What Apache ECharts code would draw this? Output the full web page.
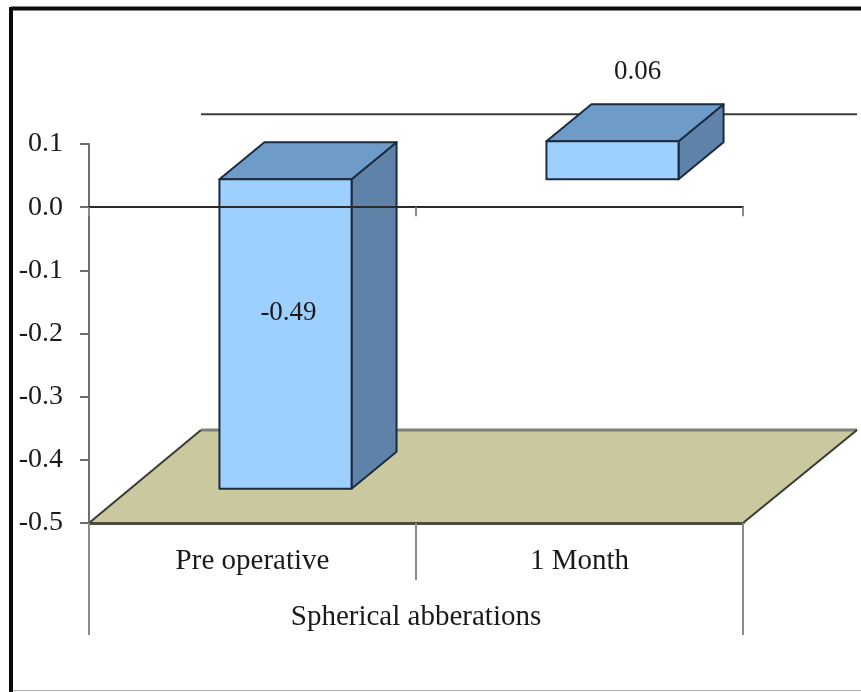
<!DOCTYPE html>
<html>
<head>
<meta charset="utf-8">
<style>html,body{margin:0;padding:0;background:#fff}#main{width:861px;height:692px}</style>
<script src="https://cdn.jsdelivr.net/npm/echarts@6/dist/echarts.min.js"></script>
</head>
<body>
<div id="main"></div>
<script>
var categories = ['Pre operative', '1 Month'];
var groupLabels = ['Spherical abberations'];
var values = [-0.49, 0.06];
var valueLabels = ['-0.49', '0.06'];

var font = '"Liberation Serif", "Times New Roman", serif';
var depthX = 112, depthY = -93;           // whole floor depth
var barDX = 33, barDY = -28;              // front of the bars, from the axis plane
var boxDX = 45, boxDY = -37;              // depth of one bar

function renderFloor(params, api) {
    var cs = params.coordSys;
    var y = api.coord([0, -0.5])[1];
    var x0 = cs.x, x1 = cs.x + cs.width;
    return {
        type: 'group',
        children: [
            {type: 'polygon', shape: {points: [[x0, y], [x1, y], [x1 + depthX + 2, y + depthY], [x0 + depthX, y + depthY]]},
                style: {fill: '#c9c89f', stroke: null}},
            {type: 'line', shape: {x1: x0 + depthX, y1: y + depthY, x2: x1 + depthX + 2, y2: y + depthY},
                style: {stroke: '#808078', lineWidth: 3}},
            {type: 'line', shape: {x1: x0, y1: y, x2: x0 + depthX, y2: y + depthY},
                style: {stroke: '#3a3a34', lineWidth: 2}},
            {type: 'line', shape: {x1: x1, y1: y, x2: x1 + depthX + 2, y2: y + depthY},
                style: {stroke: '#3a3a34', lineWidth: 2}}
        ]
    };
}

function renderBackLine(params, api) {
    var cs = params.coordSys;
    var y = api.coord([0, 0])[1] + depthY;
    return {type: 'line', shape: {x1: cs.x + depthX, y1: y, x2: cs.x + cs.width + depthX + 2, y2: y},
        style: {stroke: '#3c3c3c', lineWidth: 2}};
}

function renderBar(params, api) {
    var i = api.value(0), v = api.value(1);
    var c0 = api.coord([i, 0]), c1 = api.coord([i, v]);
    var w = api.size([1, 0])[0] * 0.404;
    var l = c0[0] - w / 2 + barDX, r = l + w;
    var top = Math.min(c0[1], c1[1]) + barDY, bot = Math.max(c0[1], c1[1]) + barDY;
    var edge = {stroke: '#1c2c40', lineWidth: 2, lineJoin: 'round'};
    return {
        type: 'group',
        children: [
            {type: 'polygon', shape: {points: [[r, top], [r + boxDX, top + boxDY], [r + boxDX, bot + boxDY], [r, bot]]},
                style: Object.assign({fill: '#5f82a9'}, edge)},
            {type: 'polygon', shape: {points: [[l, top], [l + boxDX, top + boxDY], [r + boxDX, top + boxDY], [r, top]]},
                style: Object.assign({fill: '#6f9bc9'}, edge)},
            {type: 'rect', shape: {x: l, y: top, width: w, height: bot - top},
                style: Object.assign({fill: '#9ed0ff'}, edge)}
        ]
    };
}

function renderLabel(params, api) {
    var i = api.value(0), v = api.value(1);
    var c0 = api.coord([i, 0]), c1 = api.coord([i, v]);
    var x = c0[0] + barDX + (v < 0 ? 3 : 25);
    var y = v < 0 ? (c0[1] + c1[1]) / 2 + barDY - 21 : c1[1] + barDY + boxDY - 32;
    return {type: 'text', x: x, y: y, z2: 20,
        style: {text: valueLabels[i], font: '27px ' + font, fill: '#1a1a1a', align: 'center', verticalAlign: 'middle'}};
}

var barData = values.map(function (v, i) { return [i, v]; });

var chart = echarts.init(document.getElementById('main'));
chart.setOption({
    animation: false,
    backgroundColor: '#fff',
    grid: {left: 89, top: 144, width: 654, height: 379, containLabel: false},
    graphic: [
        {type: 'line', shape: {x1: 11, y1: 8.5, x2: 861, y2: 8.5}, style: {stroke: '#0a0a0a', lineWidth: 4}},
        {type: 'line', shape: {x1: 11, y1: 7, x2: 11, y2: 692}, style: {stroke: '#0a0a0a', lineWidth: 4}},
        {type: 'line', shape: {x1: 13, y1: 690.5, x2: 861, y2: 690.5}, style: {stroke: '#b0b0b0', lineWidth: 1}}
    ],
    xAxis: [
        // bottom axis with the category labels
        {type: 'category', data: categories, position: 'bottom', z: 3,
            axisLine: {onZero: false, lineStyle: {color: '#4b4b40', width: 3}},
            axisTick: {show: true, length: 57, lineStyle: {color: '#8a8a8a', width: 2}},
            axisLabel: {margin: 24, fontFamily: font, fontSize: 29, color: '#1a1a1a'}},
        // outer level of the category labels
        {type: 'category', data: groupLabels, position: 'bottom', z: 2,
            axisLine: {show: false, onZero: false},
            axisTick: {show: true, length: 112, lineStyle: {color: '#8a8a8a', width: 2}},
            axisLabel: {margin: 80, fontFamily: font, fontSize: 29, color: '#1a1a1a'}},
        // line through zero, drawn over the bars
        {type: 'category', data: categories, position: 'bottom', z: 8,
            axisLine: {onZero: true, lineStyle: {color: '#2a2a2a', width: 2}},
            axisTick: {show: true, length: 9, lineStyle: {color: '#8a8a8a', width: 2}},
            axisLabel: {show: false}}
    ],
    yAxis: {
        type: 'value', min: -0.5, max: 0.1, interval: 0.1,
        z: 3,
        splitLine: {show: false},
        axisLine: {show: true, onZero: false, lineStyle: {color: '#6e6e6e', width: 2}},
        axisTick: {show: true, length: 9, lineStyle: {color: '#6e6e6e', width: 2}},
        axisLabel: {margin: 26, fontFamily: font, fontSize: 28, color: '#1a1a1a',
            formatter: function (v) { return v.toFixed(1); }}
    },
    series: [
        {type: 'custom', name: 'floor', renderItem: renderFloor, data: [[0, -0.5]], z: 1, silent: true, clip: false},
        {type: 'custom', name: 'back line', renderItem: renderBackLine, data: [[0, 0]], z: 1, silent: true, clip: false},
        {type: 'custom', name: 'bars', renderItem: renderBar, data: barData, z: 2, clip: false},
        {type: 'custom', name: 'labels', renderItem: renderLabel, data: barData, z: 10, silent: true, clip: false}
    ]
});

window.onresize = chart.resize;
</script>
</body>
</html>
